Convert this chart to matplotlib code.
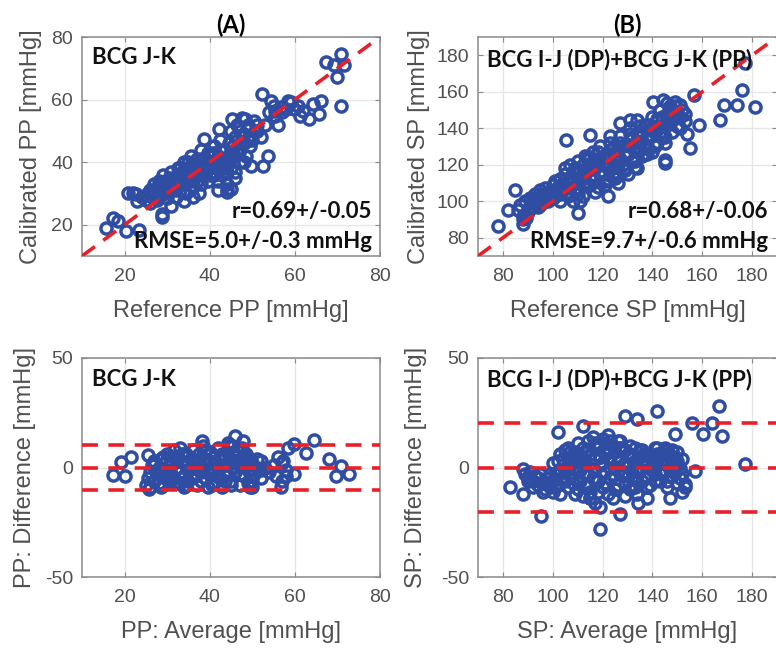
import matplotlib
matplotlib.use("Agg")
import matplotlib.pyplot as plt

# ---------------- data ----------------
# Panel A: PP scatter (reference vs calibrated)
ref_pp = [15.7, 17.3, 18.5, 20.4, 23.5, 20.8, 22.7, 28.9, 28.9, 34.0, 37.4, 38.6, 42.1, 44.4, 44.0,
          45.2, 48.3, 49.8, 50.6, 49.8, 52.6, 53.8, 52.2, 54.5, 55.3, 55.3, 56.8, 58.4, 59.1, 59.9,
          60.7, 61.9, 61.1, 63.4, 64.2, 65.7, 66.1, 67.3, 69.2, 70.0, 70.8, 71.6, 70.8,
          24, 25, 25.5, 26, 26.5, 27, 27, 27.5, 28, 28, 28.5, 29, 29, 29.5, 30, 30, 30.5, 31, 31,
          31.5, 32, 32, 32.5, 33, 33, 33.5, 34, 34, 34.5, 35, 35, 35.5, 36, 36, 36.5, 37, 37, 37.5,
          38, 38, 38.5, 39, 39, 39.5, 40, 40, 40.5, 41, 41, 41.5, 42, 42, 42.5, 43, 43, 43.5, 44, 44,
          44.5, 45, 45, 45.5, 46, 46, 46.5, 47, 47, 47.5, 48, 48, 48.5, 49, 49.5, 50, 50.5, 51, 52,
          53, 54, 55, 56, 57, 58, 23, 22, 26, 31, 36, 44, 45, 42, 48, 46,
          26.5, 27.5, 28.5, 29.5, 30.5, 31.5, 32.5, 33.5, 34.5, 35.5, 36.5, 37.5, 38.5, 39.5, 40.5,
          41.5, 42.5, 43.5, 44.5, 45.5, 46.5, 47.5, 30, 32, 34, 36, 38, 40, 42, 44, 33, 35, 37, 39,
          41, 43, 45, 47, 49, 51]
cal_pp = [18.8, 22.3, 21.3, 18.1, 18.3, 30.0, 29.8, 22.6, 23.4, 27.7, 30.0, 47.4, 50.6, 39.4, 31.4,
          53.8, 53.8, 48.0, 50.0, 38.9, 38.9, 42.1, 61.8, 59.7, 56.5, 54.9, 57.6, 59.7, 59.2, 57.0,
          58.1, 56.5, 54.9, 53.8, 58.6, 55.4, 59.7, 72.0, 70.9, 67.2, 74.6, 70.9, 58.1,
          29, 28, 30, 31, 29, 30.5, 33, 28, 31, 34, 29.5, 32, 36, 30, 33, 28.5, 35, 31, 37,
          33, 29, 35, 38, 31, 34, 36, 33, 40, 30, 35, 38, 42, 32, 36, 39, 34, 41, 37,
          33, 44, 39, 36, 41, 34, 38, 43, 40, 36, 45, 38, 42, 34, 47, 39, 36, 44, 41, 33,
          46, 38, 50, 43, 35, 48, 52, 44, 40, 54, 49, 46, 42, 52, 45, 47, 53, 50, 48,
          52, 56, 58, 52, 56, 57, 27.5, 30, 27, 26, 29, 30.5, 31.5, 31, 40, 37,
          31, 29, 33, 31, 32, 35, 33, 37, 35, 39, 37, 40, 36, 43, 42,
          40, 44, 38, 42, 45, 43, 48, 32, 31, 37, 34, 41, 36, 39, 37, 38, 40, 36, 38,
          43, 41, 41, 50, 47, 52]

# Panel B: SP scatter (reference vs calibrated)
ref_sp = [78, 82, 84.7, 88, 89.4, 110.2, 105.5, 114.9, 122.3, 123, 127, 131, 133.7, 140.4, 144.4,
          145.8, 149.1, 156.5, 158.5, 155.2, 145.1, 145.1, 167.2, 168.6, 174, 176, 177.3, 181.3,
          86, 87, 88, 89, 90, 91, 92, 93, 94, 95, 96, 97, 98, 99, 100, 101, 102, 103, 104, 105,
          106, 107, 107, 108, 108, 109, 110, 110, 111, 112, 113, 113, 114, 115, 116, 117, 118, 118,
          119, 120, 121, 122, 122, 123, 124, 125, 126, 126, 127, 128, 129, 130, 130, 131, 132, 133,
          134, 134, 135, 136, 137, 138, 139, 140, 140, 141, 142, 143, 144, 145, 146, 147, 148, 149,
          150, 151, 152, 153, 154,
          88, 90, 92, 94, 96, 98, 100, 102, 104, 106, 108, 110, 112, 114, 116, 118, 120, 122, 124,
          126, 128, 130, 132, 134, 136, 138, 140, 142, 144, 146, 148, 150, 95, 99, 103, 107, 111,
          115, 119, 123, 127, 131, 135, 139, 143, 147, 151, 105, 115, 125,
          92, 94, 96, 97, 99, 101, 103, 105, 106, 108, 109, 111, 112, 114, 115, 117, 118, 120, 121,
          123, 124, 126, 127, 129, 130, 132, 133, 135, 136, 138, 139, 141, 142, 144, 145, 147, 148,
          150, 151, 153, 110, 112, 117, 121, 125, 129, 133, 137, 141, 145]
cal_sp = [86.7, 95.1, 106, 87.3, 91, 93.6, 133.6, 136.4, 102.7, 135.5, 142.7, 144.5, 144.5, 154.5,
          155.5, 153.6, 154.5, 158.2, 141.8, 129, 122.7, 120.9, 144.5, 152.7, 152.7, 160.9, 175.5,
          151.8,
          95, 98, 92, 100, 96, 102, 99, 104, 101, 106, 103, 107, 100, 105, 109, 103, 108, 112, 106,
          115, 110, 104, 120, 100, 113, 118, 107, 122, 100, 115, 110, 125, 120, 113, 127, 118, 108,
          123, 130, 116, 120, 112, 126, 132, 118, 123, 128, 110, 136, 120, 125, 115, 131, 140, 122,
          128, 118, 137, 132, 125, 142, 130, 135, 127, 146, 138, 132, 150, 141, 135, 148, 143, 138,
          152, 146, 140, 150, 144, 137,
          90, 94, 97, 99, 101, 104, 102, 106, 110, 108, 116, 112, 120, 117, 122, 120, 124, 118, 129,
          122, 130, 126, 134, 130, 138, 135, 140, 144, 146, 142, 150, 148, 98, 103, 104, 112, 113,
          124, 115, 128, 123, 137, 141, 142, 138, 152, 146, 118, 109, 116,
          101, 97, 104, 100, 102, 111, 100, 108, 103, 111, 106, 117, 109, 124, 118, 112, 127, 121,
          109, 125, 114, 120, 132, 117, 126, 135, 119, 128, 133, 126, 139, 132, 145, 136, 143, 149,
          146, 141, 153, 148, 104, 103, 105, 111, 113, 118, 122, 126, 130, 132]

# Panel C: PP Bland-Altman (average vs difference)
avg_pp = [17.3, 19.2, 20.0, 21.6, 25.4, 25.8, 38.2, 44.4, 46.0, 47.9, 56.8, 58.4, 59.9, 64.6, 62.6,
          59.9, 68.1, 69.6, 70.8, 72.7, 57.2,
          25, 25.5, 26, 26, 26.5, 27, 27, 27.5, 28, 28, 28.5, 29, 29, 29.5, 30, 30, 30.5, 31, 31,
          31.5, 32, 32, 32.5, 33, 33, 33.5, 34, 34, 34.5, 35, 35, 35.5, 36, 36, 36.5, 37, 37, 37.5,
          38, 38, 38.5, 39, 39, 39.5, 40, 40, 40.5, 41, 41, 41.5, 42, 42, 42.5, 43, 43, 43.5, 44,
          44, 44.5, 45, 45, 45.5, 46, 46, 47, 47, 47.5, 48, 48, 48.5, 49, 49, 49.5, 50, 50, 50.5,
          51, 52, 52, 53, 54, 55, 55.5, 56, 57, 57, 58, 58,
          27, 28, 29, 30, 31, 32, 33, 34, 35, 36, 37, 38, 39, 40, 41, 42, 43, 44, 45, 46, 47, 48,
          49, 50, 51, 52, 28.5, 31.5, 34.5, 37.5, 40.5, 43.5, 46.5, 49.5, 29.5, 33.5, 38.5, 42.5,
          45.5, 48.5]
diff_pp = [-3.3, 2.3, -3.8, 4.6, 5.6, -10.0, 12.2, 11.4, 14.5, 12.2, -9.1, 9.1, 10.7, 12.5, 6.8,
           -3.0, 3.8, -3.8, 0.8, -3.0, 3.0,
           -8, -5, -2, -9, 1, -6, 3, -3, -7, 0, 4, -4, -8, 2, -1, 6, -6, 3, -3,
           8, 0, -7, 5, -2, 9, -5, 2, -9, 6, -1, -6, 4, 0, 8, -4, 3, -8, 6,
           -2, 1, 10, -5, 4, -9, 0, 7, -3, 5, -7, 2, -1, 9, -5, 4, -9, 1, 7,
           -3, 10, -6, 3, 0, 6, -2, -8, 4, 9, -4, 1, 6, -7, -1, 4, -9, 2, -3,
           0, -5, 3, 0, -2, 1, -4, 5, -6, 2, -1, -4,
           1, -2, 5, -5, 1, 4, -7, 6, 2, -3, 0, -6, 8, 3, -1, -4, 6, 1, -8, 2, -3, 5,
           3, -6, 4, -1, -9, -5, -8, -1, -8, -6, 8, -9, -5, 6, 3, 5,
           10, 3]

# Panel D: SP Bland-Altman (average vs difference)
avg_sp = [82.7, 88, 88, 95.4, 102.1, 112.2, 118.9, 127, 129, 129, 133.7, 134.4, 137.7, 141.7,
          147.1, 149.1, 151.8, 153.2, 155.8, 157.2, 160.5, 163.9, 166.6, 168, 177.3,
          89, 90, 91, 92, 93, 94, 95, 96, 97, 98, 99, 100, 100, 101, 102, 102, 103, 103, 104, 104,
          105, 105, 106, 106, 107, 107, 108, 108, 109, 110, 110, 111, 111, 112, 112, 113, 113, 114,
          114, 115, 115, 116, 116, 117, 117, 118, 118, 119, 119, 120, 120, 121, 121, 122, 122, 123,
          123, 124, 124, 125, 125, 126, 127, 127, 128, 129, 129, 130, 131, 131, 132, 133, 133, 134,
          135, 135, 136, 137, 137, 138, 139, 139, 140, 141, 141, 142, 143, 143, 144, 145, 146, 146,
          147, 148, 148, 149, 150, 150, 151, 152, 152, 153,
          100, 102, 104, 106, 108, 110, 112, 114, 116, 118, 120, 122, 124, 126, 128, 130, 132, 134,
          136, 138, 140, 142, 144, 146, 148, 150, 103, 109, 113, 117, 121, 125, 129, 133, 137, 141,
          145, 149, 115, 119, 123, 127,
          90, 92, 94, 96, 98, 99, 101, 103, 105, 107, 109, 111, 113, 115, 117, 119, 121, 123, 125,
          127, 129, 131, 133, 135, 137, 139, 141, 143, 145, 147, 149, 151, 106, 110, 114, 118, 122,
          126, 130, 134, 138, 142, 146, 150]
diff_sp = [-8.7, -0.8, -12.2, -22, 16, 19, -28.2, -21.3, -12.9, 23.6, 22.1, -16, -13.7, 25.9,
           -13.7, 15.2, -11.4, -7.6, 20.5, -1.5, 15.2, 20.5, 28.2, 14.5, 1.5,
           -3, -5, -2, -6, -4, -8, -3, -7, -10, -5, -9, -6, -11, -3, 3, -8, 6, -12, 1, -5,
           8, -2, 4, -9, -4, 7, 0, -7, 3, -10, 5, -1, -6, 9, -13, 2, -8, 12, -3, 6, -11, 0, 14,
           -16, 4, 9, -6, -18, 1, 13, -9, 6, -2, -12, 15, 3, -5, 10, -14, 0, 7, -8, 4, 12, -3,
           8, -7, 1, 6, -10, -2, 9, 3, -6, 5, -1, 8, -4, 2, 6, -8, 0, 4, -3, 9, 1, -6, 6, -1, 3,
           -9, 8, 0, 5, -4, 2, -7, 7, 0, 4, -3, -9,
           2, -3, 4, 0, 6, -2, 4, 8, -5, 11, 2, 7, -3, 3, 1, -4, 5, 0, -6, 3, -1, 6, -3, 2, 8, 1,
           -1, 7, -3, 10, -7, -10, 2, -9, 6, 4, 6, -2, -14, 5, 12, 9,
           -6, -9, -5, -11, -7, -3, -9, -1, -6, 2, -12, 4, 7, -14, 11, 5, -7, 0, -10, 9, -2, 10,
           -5, 8, 1, 5, -6, 2, 9, -1, 5, -5, 9, 11, -8, -11, 9, 12, 6, -12, -9, 9, -6, 3]

ba_pp_lines = [-10.3, 0.0, 10.3]
ba_sp_lines = [-20.5, 0.0, 20.3]

# ---------------- style ----------------
BLUE = "#2f4ea3"
RED = "#e8202a"
GRAY = "#505050"
SPINE = "#8a8a8a"
GRID = "#e6e6e6"
TXT = "Lato"
TXT_SIZE = 16

plt.rcParams["font.family"] = ["Liberation Sans", "DejaVu Sans"]
plt.rcParams["axes.unicode_minus"] = False

W, H = 776, 652
fig = plt.figure(figsize=(W / 100, H / 100), dpi=100)


def make_ax(l, r, t, b):
    return fig.add_axes([l / W, 1 - b / H, (r - l) / W, (b - t) / H])


axA = make_ax(82, 380, 37, 256)
axB = make_ax(478, 777, 37, 256)
axC = make_ax(82, 380, 358, 577)
axD = make_ax(478, 777, 358, 577)

dash = (0, (4.4, 2.9))


def style(ax, xlim, ylim, xticks, yticks, xlabel, ylabel, ylab_x):
    ax.set_xlim(*xlim)
    ax.set_ylim(*ylim)
    ax.set_xticks(xticks)
    ax.set_yticks(yticks)
    ax.grid(True, color=GRID, linewidth=0.9, zorder=0)
    ax.set_axisbelow(True)
    for s in ax.spines.values():
        s.set_color(SPINE)
        s.set_linewidth(1.1)
    ax.tick_params(direction="in", length=3.5, width=0.8, color=SPINE,
                   labelsize=14, labelcolor=GRAY, top=True, right=True)
    ax.tick_params(axis="x", pad=8.5)
    ax.tick_params(axis="y", pad=6.5)
    ax.set_xlabel(xlabel, fontsize=17, color=GRAY)
    ax.set_ylabel(ylabel, fontsize=17, color=GRAY)
    ax.xaxis.set_label_coords(0.5, -0.2)
    ax.yaxis.set_label_coords(ylab_x, 0.5)


def scatter(ax, x, y):
    ax.plot(x, y, linestyle="none", marker="o", markersize=8.0, markerfacecolor="none",
            markeredgecolor=BLUE, markeredgewidth=2.5, zorder=3)


def label(ax, x, y, s, ha):
    ax.text(x, y, s, transform=ax.transAxes, fontsize=TXT_SIZE, fontweight="bold",
            family=TXT, va="baseline", ha=ha, color="#111111", zorder=6)


# Panel A
scatter(axA, ref_pp, cal_pp)
axA.plot([10, 80], [10, 80], color=RED, linewidth=2.6, linestyle=dash, zorder=4)
style(axA, (10, 80), (10, 80), [20, 40, 60, 80], [20, 40, 60, 80],
      "Reference PP [mmHg]", "Calibrated PP [mmHg]", -0.134)
axA.set_title("(A)", fontsize=17, fontweight="bold", family=TXT, pad=3)
label(axA, 0.034, 0.878, "BCG J-K", "left")
label(axA, 0.973, 0.174, "r=0.69+/-0.05", "right")
label(axA, 0.973, 0.037, "RMSE=5.0+/-0.3 mmHg", "right")

# Panel B
scatter(axB, ref_sp, cal_sp)
axB.plot([70, 190], [70, 190], color=RED, linewidth=2.6, linestyle=dash, zorder=4)
style(axB, (70, 190), (70, 190), [80, 100, 120, 140, 160, 180], [80, 100, 120, 140, 160, 180],
      "Reference SP [mmHg]", "Calibrated SP [mmHg]", -0.16)
axB.set_title("(B)", fontsize=17, fontweight="bold", family=TXT, pad=3)
label(axB, 0.03, 0.868, "BCG I-J (DP)+BCG J-K (PP)", "left")
label(axB, 0.97, 0.174, "r=0.68+/-0.06", "right")
label(axB, 0.97, 0.037, "RMSE=9.7+/-0.6 mmHg", "right")

# Panel C
scatter(axC, avg_pp, diff_pp)
for v in ba_pp_lines:
    axC.axhline(v, color=RED, linewidth=2.6, linestyle=dash, zorder=4)
style(axC, (10, 80), (-50, 50), [20, 40, 60, 80], [-50, 0, 50],
      "PP: Average [mmHg]", "PP: Difference [mmHg]", -0.154)
label(axC, 0.034, 0.872, "BCG J-K", "left")

# Panel D
scatter(axD, avg_sp, diff_sp)
for v in ba_sp_lines:
    axD.axhline(v, color=RED, linewidth=2.6, linestyle=dash, zorder=4)
style(axD, (70, 190), (-50, 50), [80, 100, 120, 140, 160, 180], [-50, 0, 50],
      "SP: Average [mmHg]", "SP: Difference [mmHg]", -0.17)
label(axD, 0.03, 0.872, "BCG I-J (DP)+BCG J-K (PP)", "left")

fig.savefig("out.png", dpi=100)
